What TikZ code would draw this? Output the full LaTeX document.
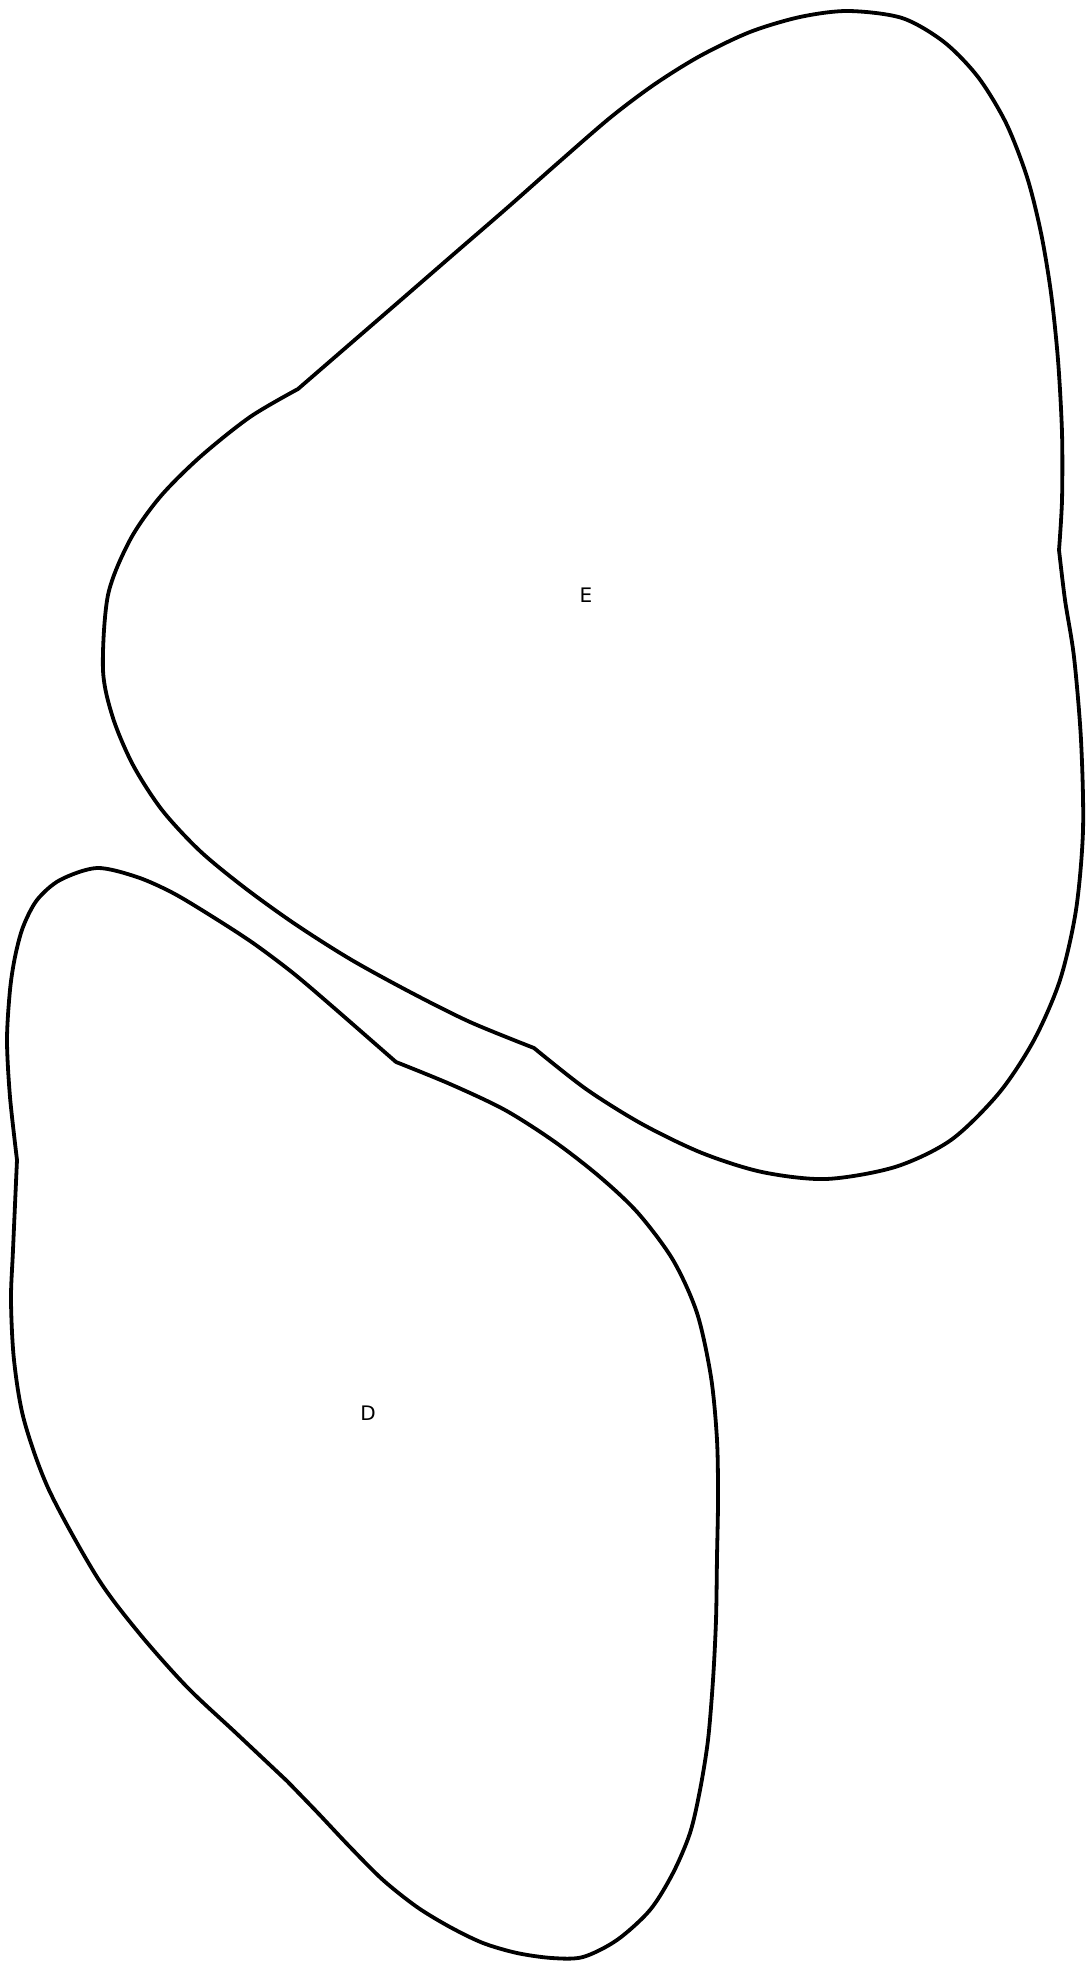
\documentclass[tikz,border=0pt]{standalone}
\usepackage{fontspec}
\setmainfont{DejaVu Sans}
\begin{document}
\begin{tikzpicture}[x=1pt,y=-1pt,
  outline/.style={draw=black, line width=3.8pt, line join=round},
  lbl/.style={font=\fontsize{20}{24}\selectfont, inner sep=0pt}]
\useasboundingbox (0,0) rectangle (1086,1961);
% Region E
\draw[outline] plot[smooth] coordinates {(298,389) (350,344) (402,299) (455,253) (507,208) (559,162) (611,117) (655,84) (700,56) (750,32) (800,17) (848,11) (902,18) (944,42) (978,77) (1006,123) (1027,177) (1041,233) (1051,293) (1058,360) (1062,433) (1062,500) (1059,550)}
 -- plot[smooth] coordinates {(1059,550) (1065,600) (1074,657) (1081,740) (1083,830) (1076,910) (1060,980) (1034,1040) (999,1093) (951,1140) (895,1167) (826,1179) (762,1172) (702,1153) (642,1124) (586,1089) (534,1048)}
 -- plot[smooth] coordinates {(534,1048) (470,1022) (410,992) (350,959) (295,924) (245,888) (200,851) (162,810) (133,765) (113,718) (103,670) (108,595) (130,540) (160,497) (200,457) (250,417) (298,389)}
 -- cycle;
% Region D
\draw[outline] plot[smooth] coordinates {(396,1062) (333,1007) (293,973) (253,943) (213,917) (173,893) (137,877) (97,868) (60,880) (37,900) (23,927) (15,957) (10,990) (7,1040) (10,1097) (17,1160)}
 -- plot[smooth] coordinates {(17,1160) (13,1250) (11,1300) (14,1360) (24,1420) (49,1490) (97,1577) (139,1633) (187,1687) (236,1733) (287,1781)}
 -- plot[smooth] coordinates {(287,1781) (317,1812) (350,1847) (383,1880) (417,1907) (450,1927) (483,1943) (517,1953) (552,1958) (583,1957) (617,1940) (650,1910) (673,1873) (690,1833) (700,1790) (708,1740) (713,1680) (716,1620) (717,1557) (718,1500) (717,1440) (711,1377) (697,1313) (673,1260) (638,1213) (600,1177) (555,1142) (505,1110) (450,1084) (396,1062)}
 -- cycle;
\node[lbl] (labelE) at (586,595) {E};
\node[lbl] (labelD) at (368,1413) {D};
\end{tikzpicture}
\end{document}
